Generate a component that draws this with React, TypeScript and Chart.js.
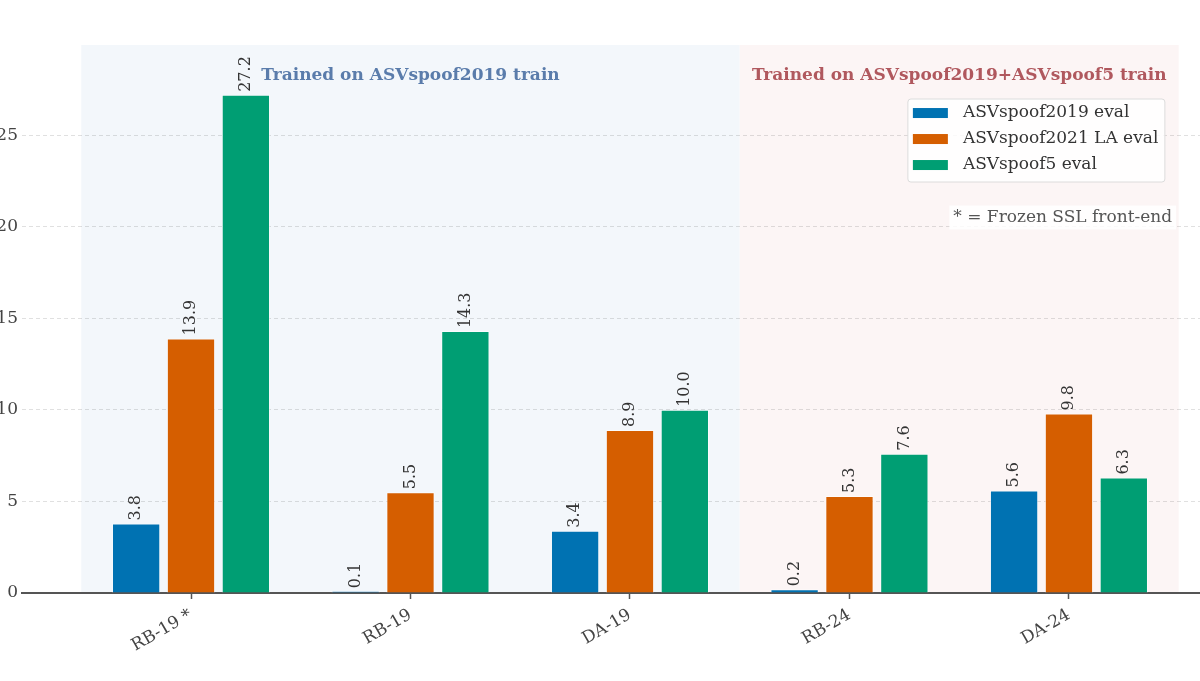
import React, { useEffect, useRef } from "react";
import { Chart, registerables } from "chart.js";

Chart.register(...registerables);

// ── Data ──────────────────────────────────────────────────────
const categories = ["RB-19 *", "RB-19", "DA-19", "RB-24", "DA-24"];
const seriesNames = ["ASVspoof2019 eval", "ASVspoof2021 LA eval", "ASVspoof5 eval"];
const eval2019 = [3.8, 0.1, 3.4, 0.2, 5.6];
const eval2021 = [13.9, 5.5, 8.9, 5.3, 9.8];
const eval5 = [27.2, 14.3, 10.0, 7.6, 6.3];
const yTicks = [0, 5, 10, 15, 20, 25];

const regionLabels = ["Trained on ASVspoof2019 train", "Trained on ASVspoof2019+ASVspoof5 train"];
const noteText = "* = Frozen SSL front-end";

const COLORS = ["#0072B2", "#D55E00", "#009E73"];
const FONT = "'DejaVu Serif', serif";

// ── Plugin: shaded regions (under the grid) ───────────────────
const regionsPlugin = {
  id: "regions",
  beforeDraw(chart: Chart) {
    const { ctx, chartArea, scales } = chart;
    const x = scales.x;
    const spans = [
      { from: -0.5, to: 2.5, color: "rgb(243,247,251)" },
      { from: 2.5, to: 4.5, color: "rgb(252,245,245)" },
    ];
    ctx.save();
    spans.forEach((s) => {
      const x0 = x.getPixelForValue(s.from);
      const x1 = x.getPixelForValue(s.to);
      ctx.fillStyle = s.color;
      ctx.fillRect(x0, chartArea.top, x1 - x0, chartArea.bottom - chartArea.top);
    });
    ctx.restore();
  },
};

// ── Plugin: value labels, headings, legend, note ──────────────
const overlayPlugin = {
  id: "overlay",
  afterDatasetsDraw(chart: Chart) {
    const { ctx } = chart;
    ctx.save();
    ctx.font = `16px ${FONT}`;
    ctx.fillStyle = "#333";
    ctx.textAlign = "left";
    ctx.textBaseline = "middle";
    chart.data.datasets.forEach((ds, di) => {
      const meta = chart.getDatasetMeta(di);
      meta.data.forEach((el: any, i) => {
        const v = (ds.data[i] as any).y as number;
        ctx.save();
        ctx.translate(el.x, el.y - 3);
        ctx.rotate(-Math.PI / 2);
        ctx.fillText(v.toFixed(1), 0, 0);
        ctx.restore();
      });
    });
    ctx.restore();
  },
  afterDraw(chart: Chart) {
    const { ctx, scales } = chart;
    const x = scales.x;
    const y = scales.y;
    ctx.save();

    // region headings
    ctx.font = `bold 17px ${FONT}`;
    ctx.textAlign = "center";
    ctx.textBaseline = "middle";
    ctx.fillStyle = "#5a7cab";
    ctx.fillText(regionLabels[0], x.getPixelForValue(1), y.getPixelForValue(28.26));
    ctx.fillStyle = "#b0585e";
    ctx.fillText(regionLabels[1], x.getPixelForValue(3.5), y.getPixelForValue(28.26));

    // legend
    const right = x.getPixelForValue(4.437);
    const top = y.getPixelForValue(26.97);
    const w = 257, h = 83;
    const left = right - w;
    ctx.beginPath();
    ctx.roundRect(left, top, w, h, 3);
    ctx.fillStyle = "rgba(255,255,255,0.85)";
    ctx.fill();
    ctx.strokeStyle = "#dcdcdc";
    ctx.lineWidth = 1;
    ctx.stroke();
    ctx.font = `17px ${FONT}`;
    ctx.textAlign = "left";
    ctx.textBaseline = "middle";
    seriesNames.forEach((name, i) => {
      const cy = top + 14 + i * 26;
      ctx.fillStyle = COLORS[i];
      ctx.fillRect(left + 5, cy - 5, 35, 10);
      ctx.fillStyle = "#333";
      ctx.fillText(name, left + 55, cy);
    });

    // note
    ctx.font = `17px ${FONT}`;
    ctx.textAlign = "right";
    const nx = x.getPixelForValue(4.47);
    const ny = y.getPixelForValue(20.5);
    const tw = ctx.measureText(noteText).width;
    ctx.fillStyle = "rgba(255,255,255,0.85)";
    ctx.fillRect(nx - tw - 4, ny - 12, tw + 8, 24);
    ctx.fillStyle = "#555";
    ctx.fillText(noteText, nx, ny);

    ctx.restore();
  },
};

// ── Main component ────────────────────────────────────────────
const App: React.FC = () => {
  const canvasRef = useRef<HTMLCanvasElement>(null);
  const chartRef = useRef<Chart | null>(null);

  useEffect(() => {
    if (!canvasRef.current) return;
    Chart.defaults.font.family = FONT;

    const series = [eval2019, eval2021, eval5];

    chartRef.current = new Chart(canvasRef.current, {
      type: "bar",
      data: {
        datasets: series.map((vals, si) => ({
          label: seriesNames[si],
          data: vals.map((v, i) => ({ x: i, y: v })),
          backgroundColor: COLORS[si],
          borderColor: "rgba(255,255,255,0.55)",
          borderWidth: 1,
          categoryPercentage: 0.75,
          barPercentage: 0.88,
        })),
      },
      plugins: [regionsPlugin, overlayPlugin],
      options: {
        responsive: false,
        animation: false,
        devicePixelRatio: 1,
        layout: { padding: { top: 45, left: 0, right: 0, bottom: 0 } },
        plugins: {
          legend: { display: false },
          tooltip: { enabled: false },
        },
        scales: {
          x: {
            type: "linear",
            min: -0.77,
            max: 4.597,
            offset: false,
            grid: {
              offset: false,
              drawOnChartArea: false,
              drawTicks: true,
              tickLength: 6,
              tickColor: "#555",
              tickWidth: 1.5,
            },
            border: { display: true, color: "#555", width: 2 },
            ticks: {
              stepSize: 1,
              includeBounds: false,
              autoSkip: false,
              minRotation: 30,
              maxRotation: 30,
              padding: 6,
              color: "#444",
              font: { size: 17, family: FONT },
              callback: (v: any) => categories[Math.round(Number(v))] ?? "",
            },
            afterFit: (scale: any) => {
              scale.height = 88;
            },
          },
          y: {
            min: 0,
            max: 29.92,
            grid: {
              color: "rgba(0,0,0,0.12)",
              lineWidth: 1,
              drawTicks: false,
            },
            border: { display: false, dash: [4, 3] },
            ticks: {
              stepSize: 5,
              includeBounds: false,
              padding: 4,
              color: "#444",
              font: { size: 17, family: FONT },
              callback: (v: any) => (yTicks.includes(Number(v)) ? String(v) : ""),
            },
            afterFit: (scale: any) => {
              scale.width = 42;
            },
          },
        },
      },
    });

    return () => chartRef.current?.destroy();
  }, []);

  return (
    <div
      style={{
        position: "fixed",
        left: 0,
        top: 0,
        width: 1200,
        height: 681,
        overflow: "hidden",
        background: "#fff",
      }}
    >
      <canvas
        ref={canvasRef}
        width={1220}
        height={681}
        style={{ position: "absolute", left: -20, top: 0, width: 1220, height: 681 }}
      />
    </div>
  );
};

export default App;
